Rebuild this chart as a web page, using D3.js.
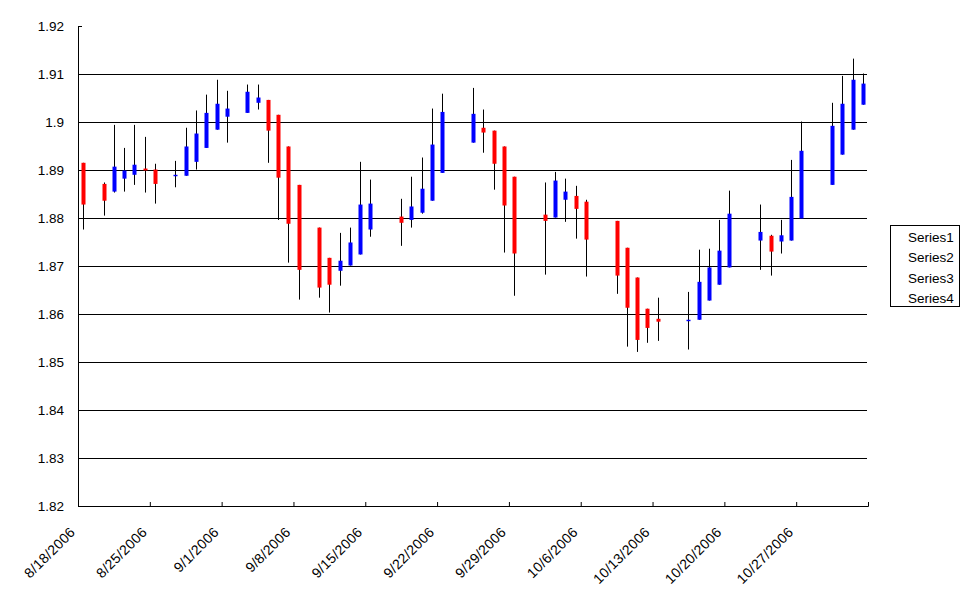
<!DOCTYPE html>
<html>
<head>
<meta charset="utf-8">
<title>Stock chart</title>
<script src="https://cdnjs.cloudflare.com/ajax/libs/d3/7.8.5/d3.min.js"></script>
<style>
  body { margin: 0; background: #fff; }
</style>
</head>
<body>
<div id="chart"></div>
<script>
// values (open / high / low / close per day)
const dates = [
  "8/18/2006", "8/20/2006", "8/21/2006", "8/22/2006", "8/23/2006", "8/24/2006", "8/25/2006",
  "8/27/2006", "8/28/2006", "8/29/2006", "8/30/2006", "8/31/2006", "9/1/2006",
  "9/3/2006", "9/4/2006", "9/5/2006", "9/6/2006", "9/7/2006", "9/8/2006",
  "9/10/2006", "9/11/2006", "9/12/2006", "9/13/2006", "9/14/2006", "9/15/2006",
  "9/18/2006", "9/19/2006", "9/20/2006", "9/21/2006", "9/22/2006",
  "9/25/2006", "9/26/2006", "9/27/2006", "9/28/2006", "9/29/2006",
  "10/2/2006", "10/3/2006", "10/4/2006", "10/5/2006", "10/6/2006",
  "10/9/2006", "10/10/2006", "10/11/2006", "10/12/2006", "10/13/2006",
  "10/16/2006", "10/17/2006", "10/18/2006", "10/19/2006", "10/20/2006",
  "10/23/2006", "10/24/2006", "10/25/2006", "10/26/2006", "10/27/2006",
  "10/30/2006", "10/31/2006", "11/1/2006", "11/2/2006"
];
const openValues = [
  1.8915, 1.8871, 1.8855, 1.8882, 1.8890, 1.8903, 1.8901,
  1.8887, 1.8888, 1.8917, 1.8946, 1.8984, 1.9011,
  1.9019, 1.9040, 1.9046, 1.9015, 1.8949, 1.8869,
  1.8780, 1.8717, 1.8690, 1.8701, 1.8724, 1.8776,
  1.8803, 1.8796, 1.8811, 1.8836, 1.8894,
  1.8957, 1.8988, 1.8982, 1.8949, 1.8886,
  1.8807, 1.8801, 1.8838, 1.8846, 1.8834,
  1.8794, 1.8738, 1.8676, 1.8611, 1.8590,
  1.8585, 1.8588, 1.8628, 1.8661, 1.8697,
  1.8753, 1.8763, 1.8751, 1.8753, 1.8799,
  1.8869, 1.8932, 1.8984, 1.9036
];
const highValues = [
  1.8915, 1.8874, 1.8994, 1.8946, 1.8994, 1.8969, 1.8913,
  1.8919, 1.8988, 1.9024, 1.9057, 1.9088, 1.9065,
  1.9078, 1.9078, 1.9046, 1.9015, 1.8949, 1.8869,
  1.8780, 1.8717, 1.8769, 1.8780, 1.8917, 1.8880,
  1.8840, 1.8886, 1.8926, 1.9028, 1.9059,
  1.9071, 1.9026, 1.8982, 1.8949, 1.8886,
  1.8874, 1.8896, 1.8882, 1.8867, 1.8838,
  1.8794, 1.8738, 1.8676, 1.8611, 1.8634,
  1.8646, 1.8734, 1.8736, 1.8796, 1.8857,
  1.8828, 1.8765, 1.8796, 1.8921, 1.9001,
  1.9040, 1.9096, 1.9132, 1.9101
];
const lowValues = [
  1.8776, 1.8805, 1.8853, 1.8855, 1.8869, 1.8853, 1.8830,
  1.8864, 1.8888, 1.8901, 1.8946, 1.8984, 1.8957,
  1.9019, 1.9026, 1.8915, 1.8796, 1.8707, 1.8630,
  1.8634, 1.8603, 1.8659, 1.8701, 1.8724, 1.8761,
  1.8742, 1.8780, 1.8809, 1.8836, 1.8894,
  1.8957, 1.8936, 1.8859, 1.8728, 1.8638,
  1.8682, 1.8801, 1.8792, 1.8757, 1.8678,
  1.8642, 1.8532, 1.8521, 1.8540, 1.8544,
  1.8526, 1.8588, 1.8628, 1.8661, 1.8697,
  1.8692, 1.8680, 1.8726, 1.8753, 1.8799,
  1.8869, 1.8932, 1.8984, 1.9036
];
const closeValues = [
  1.8828, 1.8836, 1.8907, 1.8899, 1.8911, 1.8899, 1.8871,
  1.8890, 1.8949, 1.8976, 1.9019, 1.9038, 1.9028,
  1.9063, 1.9051, 1.8982, 1.8884, 1.8788, 1.8692,
  1.8655, 1.8661, 1.8711, 1.8749, 1.8828, 1.8830,
  1.8790, 1.8824, 1.8861, 1.8953, 1.9021,
  1.9017, 1.8978, 1.8913, 1.8826, 1.8726,
  1.8794, 1.8878, 1.8855, 1.8819, 1.8755,
  1.8680, 1.8613, 1.8546, 1.8571, 1.8584,
  1.8588, 1.8667, 1.8697, 1.8732, 1.8809,
  1.8771, 1.8730, 1.8764, 1.8844, 1.8940,
  1.8992, 1.9038, 1.9088, 1.9080
];

const yTicks = [1.82, 1.83, 1.84, 1.85, 1.86, 1.87, 1.88, 1.89, 1.9, 1.91, 1.92];
const xTickLabels = ["8/18/2006", "8/25/2006", "9/1/2006", "9/8/2006", "9/15/2006", "9/22/2006",
  "9/29/2006", "10/6/2006", "10/13/2006", "10/20/2006", "10/27/2006"];
const xEnd = "11/3/2006";
const seriesNames = ["Series1", "Series2", "Series3", "Series4"];

const width = 970, height = 604;
const plot = {left: 78, right: 868, top: 26, bottom: 506};
const font = "'Liberation Sans', Arial, sans-serif";

const parseDay = d3.utcParse("%m/%d/%Y");
const formatDay = d3.utcFormat("%-m/%-d/%Y");

const data = dates.map(function(d, i) {
  return {date: parseDay(d), open: openValues[i], high: highValues[i], low: lowValues[i], close: closeValues[i]};
});

const x = d3.scaleUtc()
  .domain([parseDay(xTickLabels[0]), parseDay(xEnd)])
  .range([plot.left, plot.right]);

const y = d3.scaleLinear()
  .domain([yTicks[0], yTicks[yTicks.length - 1]])
  .range([plot.bottom, plot.top]);

const svg = d3.select("#chart").append("svg")
  .attr("width", width)
  .attr("height", height)
  .style("display", "block");

// horizontal gridlines (not at the bottom axis or the top)
svg.append("g")
  .selectAll("line")
  .data(yTicks.slice(1, -1))
  .enter().append("line")
  .attr("x1", plot.left)
  .attr("x2", plot.right - 1)
  .attr("y1", function(d) { return Math.round(y(d)) + 0.5; })
  .attr("y2", function(d) { return Math.round(y(d)) + 0.5; })
  .attr("stroke", "#000")
  .attr("stroke-width", 1);

// y axis
const yAxis = svg.append("g")
  .attr("transform", "translate(" + plot.left + ",0)")
  .call(d3.axisLeft(y).tickValues(yTicks).tickSize(-4).tickSizeOuter(0).tickPadding(14)
    .tickFormat(function(d) { return String(+d.toFixed(2)); }));
yAxis.select(".domain").attr("stroke", "#000");
yAxis.selectAll(".tick line").attr("stroke", "#000");
yAxis.selectAll(".tick text")
  .attr("fill", "#000")
  .attr("dy", "0.36em")
  .style("font-family", font)
  .style("font-size", "13.5px");

// x axis, weekly ticks
const xAxis = svg.append("g")
  .attr("transform", "translate(0," + plot.bottom + ")")
  .call(d3.axisBottom(x).tickValues(xTickLabels.map(parseDay)).tickSize(-4).tickSizeOuter(-4)
    .tickFormat(formatDay));
xAxis.select(".domain").attr("stroke", "#000");
xAxis.selectAll(".tick line").attr("stroke", "#000");
xAxis.selectAll(".tick text")
  .attr("fill", "#000")
  .attr("x", 0)
  .attr("y", 0)
  .attr("dy", "0.36em")
  .attr("text-anchor", "end")
  .attr("transform", "translate(-6,23.5) rotate(-45)")
  .style("font-family", font)
  .style("font-size", "14px")
  .style("letter-spacing", "0.3px");

// candles: wick first, then the body on top
function cx(d) { return Math.round(x(d3.utcHour.offset(d.date, 12))); }

const candles = svg.append("g")
  .selectAll("g")
  .data(data)
  .enter().append("g");

candles.append("line")
  .attr("x1", function(d) { return cx(d) + 0.5; })
  .attr("x2", function(d) { return cx(d) + 0.5; })
  .attr("y1", function(d) { return y(d.high); })
  .attr("y2", function(d) { return y(d.low); })
  .attr("stroke", "#000")
  .attr("stroke-width", 1);

candles.append("rect")
  .attr("x", function(d) { return cx(d) - 1.5; })
  .attr("width", 4)
  .attr("y", function(d) { return y(Math.max(d.open, d.close)); })
  .attr("height", function(d) { return Math.max(1, Math.abs(y(d.open) - y(d.close))); })
  .attr("fill", function(d) { return d.close >= d.open ? "#0000FF" : "#FF0000"; });

// legend
const legend = svg.append("g")
  .attr("transform", "translate(890.5,225.5)");

legend.append("rect")
  .attr("width", 69)
  .attr("height", 81)
  .attr("fill", "#fff")
  .attr("stroke", "#000");

legend.selectAll("text")
  .data(seriesNames)
  .enter().append("text")
  .attr("x", 17.5)
  .attr("y", function(d, i) { return 16.5 + i * 20.3; })
  .style("font-family", font)
  .style("font-size", "13.5px")
  .attr("fill", "#000")
  .text(function(d) { return d; });
</script>
</body>
</html>
